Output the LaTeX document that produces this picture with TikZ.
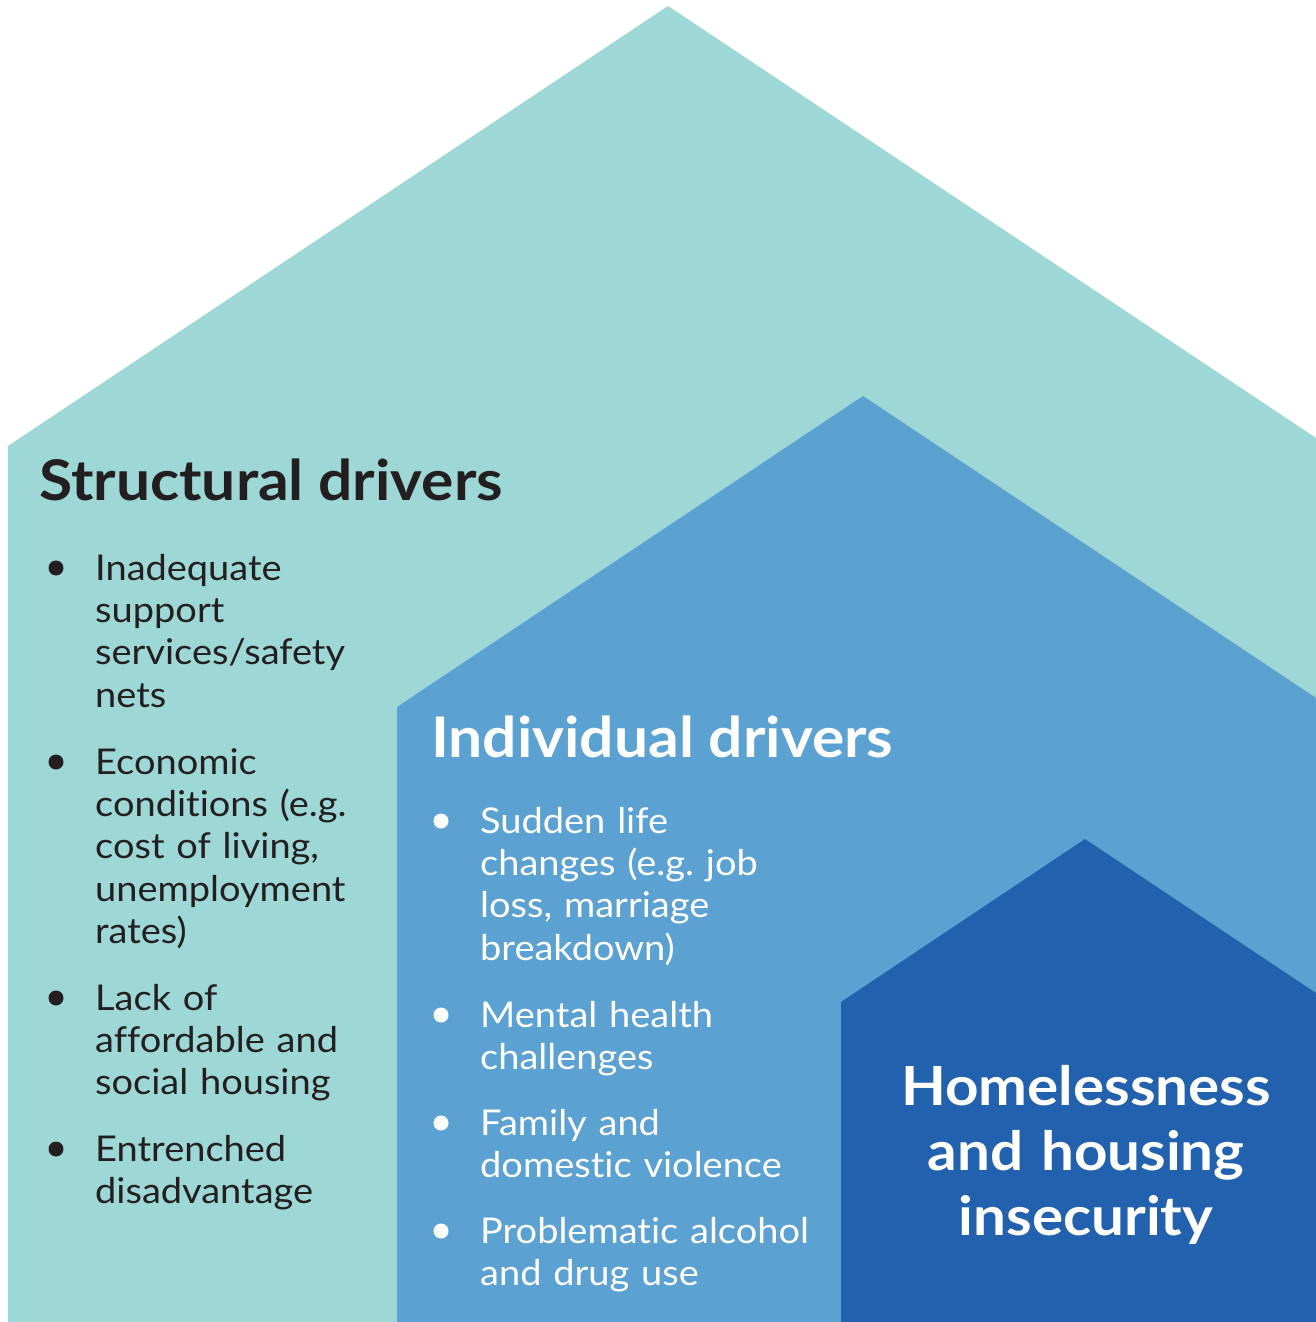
\documentclass[tikz,border=0pt]{standalone}
\usepackage{fontspec}
\setmainfont{Lato}[Ligatures={NoCommon}, FakeStretch=1.07, BoldFeatures={FakeStretch=1.08}]
\usetikzlibrary{positioning}
\frenchspacing

\definecolor{structfill}{RGB}{157,215,214}
\definecolor{indivfill}{RGB}{91,162,210}
\definecolor{homefill}{RGB}{34,97,173}
\definecolor{inkdark}{RGB}{35,31,32}

\begin{document}
\begin{tikzpicture}[x=1pt, y=-1pt,
	title/.style={anchor=base west, inner sep=0pt, font=\bfseries\fontsize{56}{60}\selectfont},
	item/.style={anchor=base west, inner sep=0pt, text width=420pt, align=left, font=\fontsize{35.5}{42.4}\selectfont},
	dot/.style={circle, fill, inner sep=0pt, minimum size=15pt}]
	\useasboundingbox (0, 0) rectangle (1316, 1322);
	
	\fill[structfill] (8, 1322) -- (8, 446) -- (668, 6) -- (1316, 438) -- (1316, 1322) -- cycle;
	\fill[indivfill] (397, 1322) -- (397, 707) -- (863, 396) -- (1316, 698) -- (1316, 1322) -- cycle;
	\fill[homefill] (841, 1322) -- (841, 1002) -- (1085, 839) -- (1316, 993) -- (1316, 1322) -- cycle;
	
	\node[title, inkdark] (structural) at (39, 500) {Structural drivers};
	\node[item, inkdark] (s1) at (95, 580) {Inadequate\\support\\services/safety\\nets};
	\node[item, inkdark] (s2) at (95, 774) {Economic\\conditions (e.g.\\cost of living,\\unemployment\\rates)};
	\node[item, inkdark] (s3) at (95, 1010) {Lack of\\affordable and\\social housing};
	\node[item, inkdark] (s4) at (95, 1161) {Entrenched\\disadvantage};
	\foreach \n in {s1, s2, s3, s4}
		\node[dot, inkdark] at ([xshift=-39pt, yshift=12pt]\n.base west) {};
	
	\node[title, white] (individual) at (431, 757) {Individual drivers};
	\node[item, white] (i1) at (480, 833) {Sudden life\\changes (e.g. job\\loss, marriage\\breakdown)};
	\node[item, white] (i2) at (480, 1027) {Mental health\\challenges};
	\node[item, white] (i3) at (480, 1135) {Family and\\domestic violence};
	\node[item, white] (i4) at (480, 1243) {Problematic alcohol\\and drug use};
	\foreach \n in {i1, i2, i3, i4}
		\node[dot, white] at ([xshift=-39pt, yshift=12pt]\n.base west) {};
	
	\node[anchor=base, inner sep=0pt, text width=440pt, align=center, white, font=\bfseries\fontsize{54}{65}\selectfont] (homeless) at (1086, 1105) {Homelessness\\and housing\\insecurity};
\end{tikzpicture}
\end{document}
